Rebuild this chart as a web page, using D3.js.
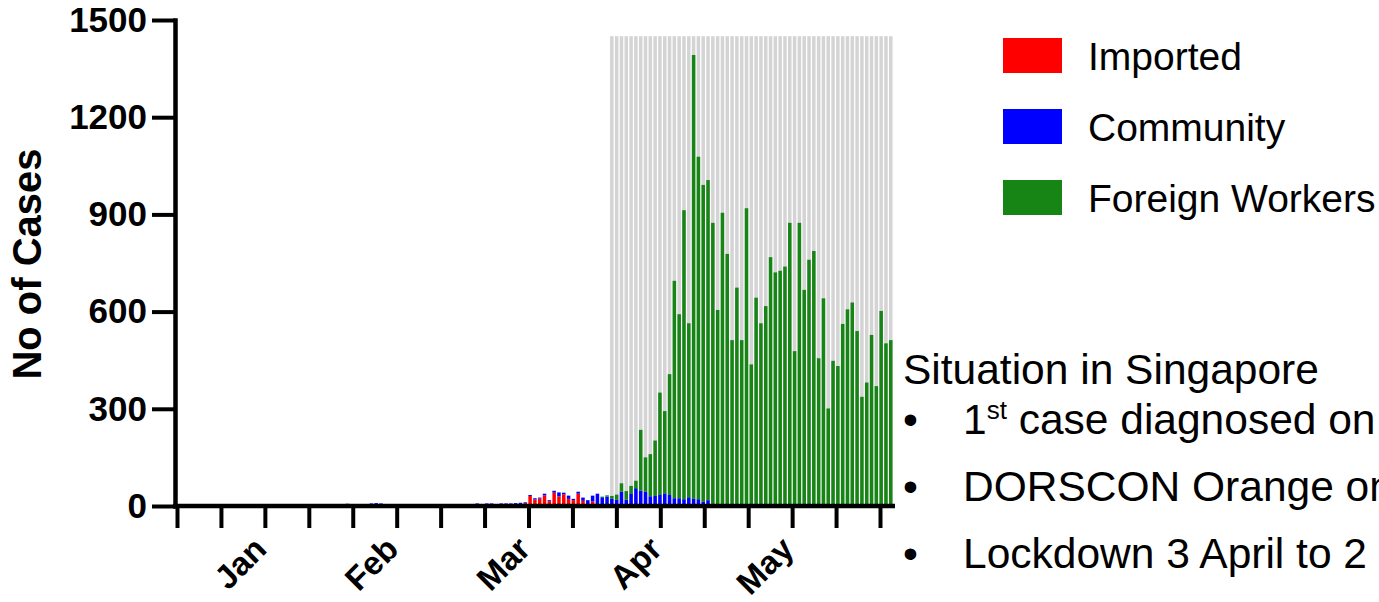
<!DOCTYPE html>
<html>
<head>
<meta charset="utf-8">
<script src="https://cdn.jsdelivr.net/npm/d3@7"></script>
<style>
  body { margin: 0; background: #fff; }
  svg { display: block; font-family: "Liberation Sans", Arial, sans-serif; }
</style>
</head>
<body>
<svg id="chart" width="1379" height="602"></svg>
<script>
// daily cases, 3 Jan 2020 .. 31 May 2020 (one value per day)
const firstDay = new Date(2020, 0, 3);
const lastDay = new Date(2020, 4, 31);
const lockdownStart = new Date(2020, 3, 3);
const lockdownTop = 1450;

const imported = [
  0,0,0,0,0,0,0,0,0,0, 0,0,0,0,0,0,0,0,0,0, 1,2,0,1,1,2,3,2,3,                 // Jan
  1,0,0,0,0,0,0,1,0,0, 0,0,0,0,0,0,0,0,0,0, 0,0,0,0,0,0,1,0,1,                 // Feb
  0,1,0,1,1,2,2,3,2,3, 4,4,5,6,6,10,31,20,23,33, 15,41,30,36,22,18,38,16,6,14, 5, // Mar
  3,2,1,1,0,0,0,0,0,0, 0,0,0,0,0,0,0,0,0,0, 0,0,0,0,0,0,0,0,0,0,               // Apr
  0,0,0,0,0,0,0,0,0,0, 0,0,0,0,0,0,0,0,0,0, 0,0,0,0,0,0,0,0,0,0, 0             // May
];
const community = [
  0,0,0,0,0,0,0,0,0,0, 0,0,0,0,0,0,0,0,0,0, 0,0,0,0,0,0,0,0,0,
  0,0,1,6,4,2,3,6,3,2, 2,3,8,9,8,3,2,4,3,1, 1,3,0,1,1,2,3,3,3,
  2,1,1,1,4,6,3,5,6,2, 4,4,3,3,4,2,3,4,3,5, 3,6,12,5,10,4,6,10,12,18, 33,
  24,27,22,18,44,20,39,55,47,44, 30,31,34,39,34,24,24,21,27,22, 21,13,18,6,4,3,6,5,3,2,
  2,1,3,2,1,2,3,1,2,1, 2,1,2,3,2,1,2,1,3,5, 2,1,2,1,1,2,1,1,2,1, 1
];
const foreignWorkers = [
  0,0,0,0,0,0,0,0,0,0, 0,0,0,0,0,0,0,0,0,0, 0,0,0,0,0,0,0,0,0,
  0,0,0,0,0,0,0,0,0,0, 0,0,0,0,0,0,0,0,0,0, 0,0,0,0,0,0,0,0,0,
  0,0,0,0,0,0,0,0,0,0, 0,0,0,0,0,0,0,0,0,0, 0,0,0,0,0,0,0,0,0,0, 0,
  2,4,8,16,26,26,23,23,188,106, 130,171,316,254,373,671,568,892,537,1370,
  1057,978,988,868,601,902,772,507,671,510,
  917,436,640,562,616,766,718,725,737,873, 476,873,665,757,785,455,639,300,445,427,
  560,606,626,539,336,379,527,369,600,501, 511
];

const seriesNames = ["Imported", "Community", "Foreign Workers"];
const seriesColors = ["#ff0000", "#0000ff", "#168516"];
const yTicks = [0, 300, 600, 900, 1200, 1500];
const monthLabels = ["", "", "Jan", "", "", "Feb", "", "", "Mar", "", "", "Apr", "", "", "May", "", ""];

const notesTitle = "Situation in Singapore";
const notes = ["case diagnosed on", "DORSCON Orange on", "Lockdown 3 April to 2 June"];

const days = d3.timeDay.range(firstDay, d3.timeDay.offset(lastDay, 1));
const rows = days.map((d, i) => ({
  date: d,
  "Imported": imported[i],
  "Community": community[i],
  "Foreign Workers": foreignWorkers[i]
}));

const svg = d3.select("#chart");
const color = d3.scaleOrdinal().domain(seriesNames).range(seriesColors);

const x = d3.scaleBand()
    .domain(days)
    .range([172, 893])
    .paddingInner(0.27)
    .paddingOuter(0.1);

const y = d3.scaleLinear().domain([0, 1500]).range([506, 20]);

// lockdown shading: one grey bar per day
svg.append("g").selectAll("rect")
    .data(days.filter(d => d >= lockdownStart))
    .enter().append("rect")
    .attr("x", d => x(d))
    .attr("width", x.bandwidth())
    .attr("y", y(lockdownTop))
    .attr("height", y(0) - y(lockdownTop))
    .style("fill", "#d4d4d4");

const stacked = d3.stack().keys(seriesNames)(rows);

svg.append("g").selectAll("g")
    .data(stacked)
    .enter().append("g")
    .style("fill", d => color(d.key))
    .selectAll("rect")
    .data(d => d.filter(p => p[1] > p[0]))
    .enter().append("rect")
    .attr("x", p => x(p.data.date))
    .attr("width", x.bandwidth())
    .attr("y", p => y(p[1]))
    .attr("height", p => y(p[0]) - y(p[1]));

// y axis
const yAxis = svg.append("g")
    .attr("transform", "translate(175,0)")
    .call(d3.axisLeft(y).tickValues(yTicks).tickFormat(d3.format("d"))
      .tickSize(23).tickSizeOuter(0).tickPadding(5));
yAxis.select(".domain").attr("stroke-width", 4.5).attr("stroke-linecap", "square");
yAxis.selectAll(".tick line").attr("stroke-width", 4);
yAxis.selectAll(".tick text")
    .style("font-size", "35px").style("font-weight", "bold").attr("fill", "#000");

svg.append("text")
    .attr("transform", "translate(41,264) rotate(-90)")
    .attr("text-anchor", "middle")
    .style("font-size", "40px").style("font-weight", "bold")
    .text("No of Cases");

// x axis: 17 ticks, month names on every third
const tickPos = d3.scaleLinear().domain([0, monthLabels.length - 1]).range([177, 880]);
const xAxis = svg.append("g")
    .attr("transform", "translate(0,506)")
    .call(d3.axisBottom(tickPos).tickValues(d3.range(monthLabels.length))
      .tickSize(22).tickSizeOuter(0).tickFormat(i => monthLabels[i]));
xAxis.select(".domain").remove();
xAxis.selectAll(".tick line").attr("stroke-width", 4);
xAxis.selectAll(".tick text")
    .style("font-size", "33px").style("font-weight", "bold")
    .attr("text-anchor", "end")
    .attr("y", 0).attr("dy", 0)
    .attr("transform", "translate(3,45) rotate(-45)");
xAxis.append("line")
    .attr("x1", 173).attr("x2", x.range()[1] + 2)
    .attr("stroke", "#000").attr("stroke-width", 4.5);

// legend
const legend = svg.append("g").selectAll("g")
    .data(seriesNames)
    .enter().append("g")
    .attr("transform", (d, i) => `translate(1003,${38 + i * 71})`);
legend.append("rect")
    .attr("width", 59).attr("height", 35)
    .style("fill", d => color(d));
legend.append("text")
    .attr("x", 85).attr("y", 18).attr("dy", "0.35em")
    .style("font-size", "39px")
    .text(d => d);

// notes on the right
const noteG = svg.append("g").style("font-size", "42.5px");
noteG.append("text").attr("x", 903).attr("y", 384).text(notesTitle);
notes.forEach((t, i) => {
  const by = 434 + i * 67;
  noteG.append("text").attr("x", 903).attr("y", by).text("\u2022");
  const tx = noteG.append("text").attr("x", 963).attr("y", by);
  if (i === 0) {
    tx.append("tspan").text("1");
    tx.append("tspan").attr("dy", -15).style("font-size", "26px").text("st");
    tx.append("tspan").attr("dy", 15).text(" " + t);
  } else {
    tx.text(t);
  }
});
</script>
</body>
</html>
